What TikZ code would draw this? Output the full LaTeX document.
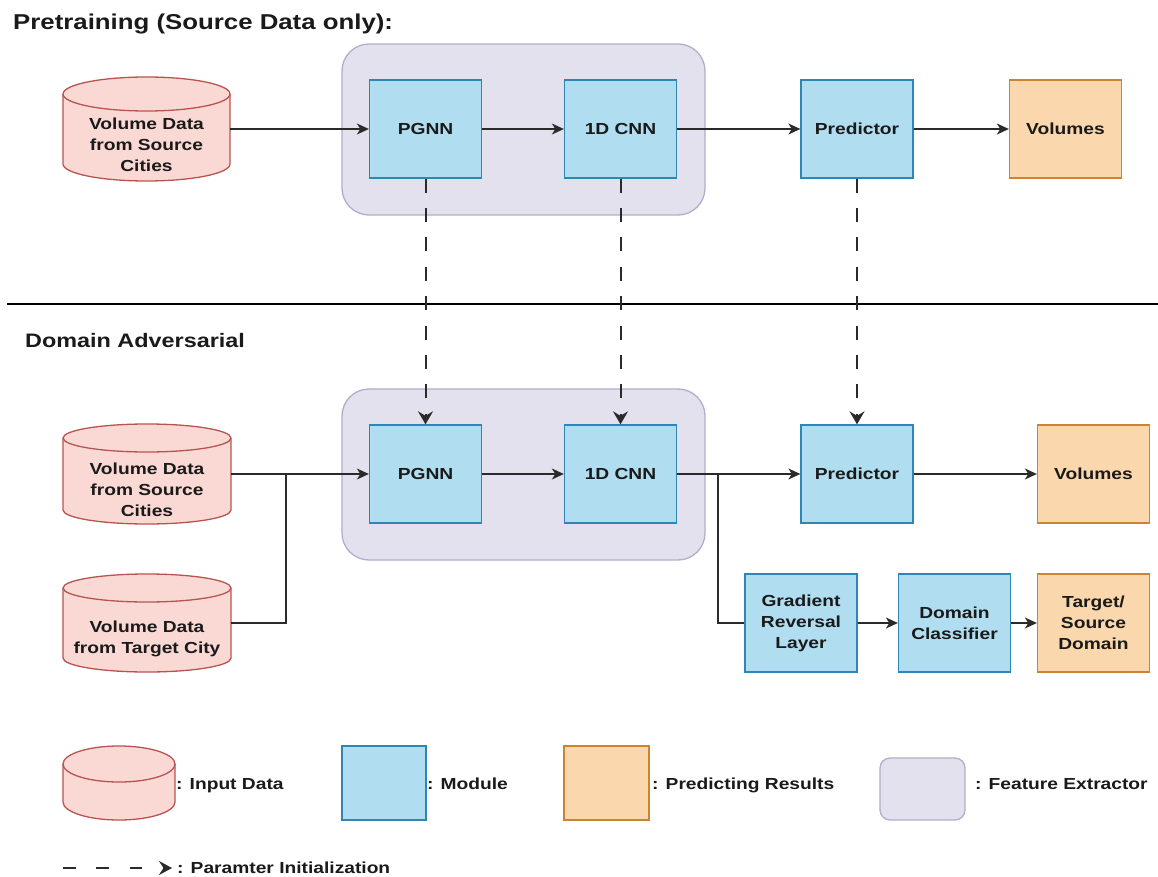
\documentclass[tikz,border=0pt]{standalone}
\usepackage{fontspec}
\setmainfont[FakeStretch=1.2]{Liberation Sans}
\usetikzlibrary{arrows.meta}
\definecolor{cylfill}{HTML}{FAD9D5}
\definecolor{cylline}{HTML}{B85450}
\definecolor{modfill}{HTML}{B1DDF0}
\definecolor{modline}{HTML}{2E86B5}
\definecolor{resfill}{HTML}{FAD7AC}
\definecolor{resline}{HTML}{CC8433}
\definecolor{fefill}{HTML}{E3E1EE}
\definecolor{feline}{HTML}{B1ADCC}
\definecolor{txt}{HTML}{1A1A1A}
\definecolor{lnc}{HTML}{2A2A2A}
\tikzset{
  basetext/.style={font=\bfseries\fontsize{16}{21}\selectfont, text=txt, align=center},
  modbox/.style={basetext, draw=modline, fill=modfill, line width=1.3pt, minimum width=112pt, minimum height=98pt, inner sep=0pt},
  resbox/.style={basetext, draw=resline, fill=resfill, line width=1.3pt, minimum width=112pt, minimum height=98pt, inner sep=0pt},
  febox/.style={draw=feline, fill=fefill, line width=1.3pt, rounded corners=27pt, inner sep=0pt},
  cylbody/.style={draw=cylline, fill=cylfill, line width=1.3pt},
  cyledge/.style={draw=cylline, line width=1.3pt},
  conn/.style={draw=lnc, line width=1.4pt},
  arr/.style={conn, -{Stealth[length=12pt,width=11pt,inset=3.5pt]}},
  init/.style={draw=lnc, line width=2pt, dash pattern=on 14pt off 15.4pt, -{Stealth[length=13pt,width=15pt,inset=4.5pt]}},
  initlg/.style={draw=lnc, line width=2pt, dash pattern=on 12.5pt off 20.8pt, -{Stealth[length=13pt,width=14pt,inset=4.5pt]}},
  lgtext/.style={basetext, anchor=base west, inner sep=0pt, align=left},
  titletext/.style={font=\bfseries\fontsize{21.5}{26}\selectfont, text=txt, anchor=base west, inner sep=0pt},
  sepline/.style={draw=black, line width=1.3pt},
}
% name, x1, x2, ytop, ybottom, ry
\newcommand\mycyl[6]{%
  \path[cylbody] (#2,#4+#6) -- (#2,#5-#6)
     arc[start angle=180,end angle=0,x radius={(#3-#2)/2},y radius=#6]
     -- (#3,#4+#6)
     arc[start angle=0,end angle=-180,x radius={(#3-#2)/2},y radius=#6] -- cycle;
  \path[cyledge] (#2,#4+#6) arc[start angle=180,end angle=0,x radius={(#3-#2)/2},y radius=#6];
  \node[inner sep=0pt, minimum width={#3-#2}, minimum height={#5-#4}] (#1) at ({(#2+#3)/2},{(#4+#5)/2}) {};
}
\begin{document}
\begin{tikzpicture}[x=1pt,y=-1pt]
\useasboundingbox[fill=white] (0,0) rectangle (1158,877);

% ---------- Pretraining ----------
\node[titletext] (t1) at (13,29.3) {Pretraining (Source Data only):};
\node[febox, minimum width=363pt, minimum height=171pt] (fe1) at (523.5,129.5) {};
\mycyl{cylA}{63}{230}{77}{181}{17}
\node[basetext] (cylAt) at (146.5,145) {Volume Data\\from Source\\Cities};
\node[modbox] (pgnn1) at (425.5,129) {PGNN};
\node[modbox] (cnn1) at (620.5,129) {1D CNN};
\node[modbox] (pred1) at (857,129) {Predictor};
\node[resbox] (vol1) at (1065.5,129) {Volumes};
\draw[arr] (cylA.east) -- (pgnn1.west);
\draw[arr] (pgnn1) -- (cnn1);
\draw[arr] (cnn1) -- (pred1);
\draw[arr] (pred1) -- (vol1);

% separator
\coordinate (sepL) at (7,304);
\coordinate (sepR) at (1158,304);
\draw[sepline] (sepL) -- (sepR);

% ---------- Domain Adversarial ----------
\node[titletext, font=\bfseries\fontsize{19.5}{24}\selectfont] (t2) at (25,347) {Domain Adversarial};
\node[febox, minimum width=363pt, minimum height=171pt] (fe2) at (523.5,474.5) {};
\mycyl{cylB}{63}{231}{424}{524}{14}
\node[basetext] (cylBt) at (147,489.5) {Volume Data\\from Source\\Cities};
\mycyl{cylC}{63}{231}{574}{672}{14}
\node[basetext] (cylCt) at (147,639) {Volume Data\\from Target City};
\node[modbox] (pgnn2) at (425.5,474) {PGNN};
\node[modbox] (cnn2) at (620.5,474) {1D CNN};
\node[modbox] (pred2) at (857,474) {Predictor};
\node[resbox] (vol2) at (1093.5,474) {Volumes};
\node[modbox] (grl) at (801,623) {Gradient\\Reversal\\Layer};
\node[modbox] (dc) at (954.5,623) {Domain\\Classifier};
\node[resbox] (ts) at (1093.5,623) {Target/\\Source\\Domain};

\draw[arr] (cylB.east) -- (pgnn2.west);
\coordinate (j1) at (286,474);
\draw[conn] (cylC.east) -| (j1);
\draw[arr] (pgnn2) -- (cnn2);
\draw[arr] (cnn2) -- (pred2);
\coordinate (j2) at (718,474);
\draw[conn] (j2) |- (grl.west);
\draw[arr] (pred2) -- (vol2);
\draw[arr] (grl) -- (dc);
\draw[arr] (dc) -- (ts);

% parameter initialization
\draw[init] (pgnn1.south) -- (pgnn2.north);
\draw[init] (cnn1.south) -- (cnn2.north);
\draw[init] (pred1.south) -- (pred2.north);

% ---------- Legend ----------
\mycyl{cylL}{63}{175}{746}{820}{18}
\node[lgtext] (lg1) at (176,789) {: Input Data};
\node[modbox, minimum width=84pt, minimum height=74pt] (lgm) at (384,783) {};
\node[lgtext] (lg2) at (427,789) {: Module};
\node[resbox, minimum width=85pt, minimum height=74pt] (lgr) at (606.5,783) {};
\node[lgtext] (lg3) at (652,789) {: Predicting Results};
\node[febox, rounded corners=10pt, minimum width=85pt, minimum height=62pt] (lgf) at (922.5,789) {};
\node[lgtext] (lg4) at (975,789) {: Feature Extractor};
\coordinate (la) at (63,868);
\coordinate (lb) at (172,868);
\draw[initlg] (la) -- (lb);
\node[lgtext] (lg5) at (177,873) {: Paramter Initialization};
\end{tikzpicture}
\end{document}
